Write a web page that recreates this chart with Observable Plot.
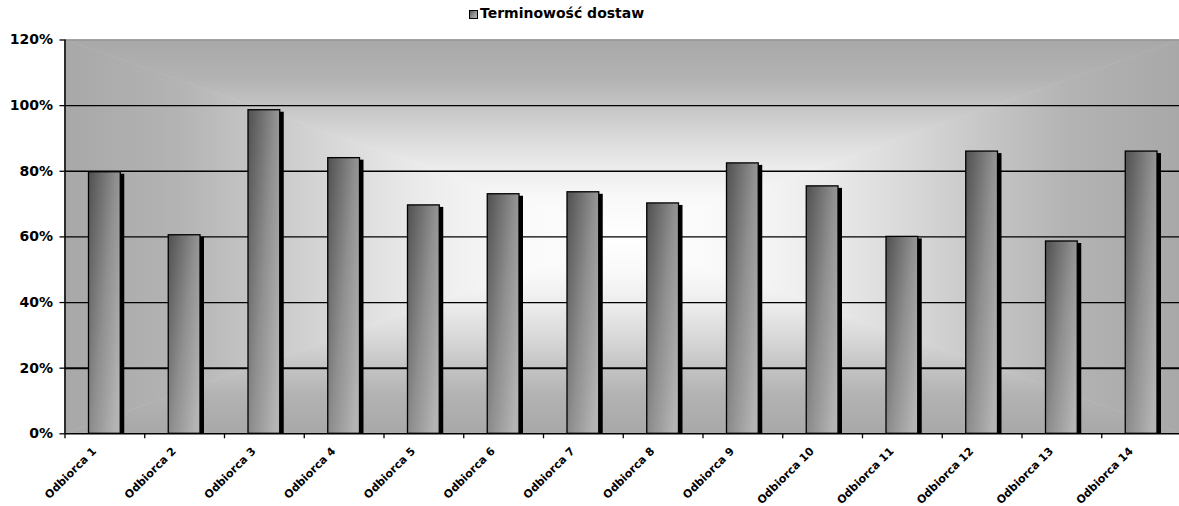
<!DOCTYPE html>
<html>
<head>
<meta charset="utf-8">
<script src="https://cdn.jsdelivr.net/npm/d3@7"></script>
<script src="https://cdn.jsdelivr.net/npm/@observablehq/plot@0.6"></script>
<style>
  html, body { margin: 0; padding: 0; background: #ffffff; }
  #chart { width: 1179px; }
  #legend { position: relative; height: 26px; width: 1179px; }
  #legend .swatch { position: absolute; left: 469px; top: 10px; }
  #legend .label { position: absolute; left: 480px; top: 5px; line-height: 16px;
    font: bold 14px "DejaVu Sans", sans-serif; color: #000; white-space: nowrap; }
</style>
</head>
<body>
<div id="chart"></div>
<script>
// Delivery punctuality per customer (percent)
const categories = [
  "Odbiorca 1", "Odbiorca 2", "Odbiorca 3", "Odbiorca 4", "Odbiorca 5",
  "Odbiorca 6", "Odbiorca 7", "Odbiorca 8", "Odbiorca 9", "Odbiorca 10",
  "Odbiorca 11", "Odbiorca 12", "Odbiorca 13", "Odbiorca 14"
];
const values = [79.7, 60.5, 98.6, 84.0, 69.6, 73.0, 73.6, 70.2, 82.4, 75.4, 60.0, 86.0, 58.6, 86.0];
const yTicks = [0, 20, 40, 60, 80, 100, 120];
const seriesName = "Terminowość dostaw";

const data = categories.map((category, index) => ({category, index, value: values[index]}));
const slots = d3.range(categories.length + 1); // category boundaries

// Shared gradient definitions (bar fill + legend swatch)
function barGradient(sel, id) {
  const g = sel.append("linearGradient").attr("id", id)
    .attr("x1", 0).attr("y1", 0).attr("x2", 1).attr("y2", 0.78);
  [[0, "#505050"], [0.55, "#8f8f8f"], [1, "#b4b4b4"]].forEach(([o, c]) =>
    g.append("stop").attr("offset", o).attr("stop-color", c));
}

// Rectangular "from centre" background: four triangles meeting at the middle
function backgroundMark(index, scales) {
  const L = scales.x(0), R = scales.x(categories.length);
  const B = scales.y(0), T = scales.y(120);
  const cx = (L + R) / 2, cy = (T + B) / 2;
  const stops = [[0, "#a8a8a8"], [0.2, "#b3b3b3"], [0.35, "#c6c6c6"], [0.5, "#dadada"],
                 [0.65, "#ececec"], [0.8, "#f8f8f8"], [1, "#ffffff"]];
  const g = d3.create("svg:g");
  const defs = g.append("defs");
  const sides = [
    {id: "bgTop", from: [0, T], to: [0, cy], pts: [[L, T], [R, T], [cx, cy]]},
    {id: "bgBottom", from: [0, B], to: [0, cy], pts: [[L, B], [R, B], [cx, cy]]},
    {id: "bgLeft", from: [L, 0], to: [cx, 0], pts: [[L, T], [L, B], [cx, cy]]},
    {id: "bgRight", from: [R, 0], to: [cx, 0], pts: [[R, T], [R, B], [cx, cy]]}
  ];
  for (const s of sides) {
    const lg = defs.append("linearGradient").attr("id", s.id)
      .attr("gradientUnits", "userSpaceOnUse")
      .attr("x1", s.from[0]).attr("y1", s.from[1]).attr("x2", s.to[0]).attr("y2", s.to[1]);
    stops.forEach(([o, c]) => lg.append("stop").attr("offset", o).attr("stop-color", c));
    g.append("polygon").attr("points", s.pts.map(p => p.join(",")).join(" "))
      .attr("fill", `url(#${s.id})`).attr("stroke", `url(#${s.id})`).attr("stroke-width", 0.6);
  }
  barGradient(defs, "barGrad");
  return g.node();
}

const font = {fontFamily: "DejaVu Sans", fontWeight: "bold", fill: "#000"};

const chart = Plot.plot({
  width: 1179,
  height: 480,
  marginTop: 13.5,
  marginBottom: 72.7,
  marginLeft: 64.5,
  marginRight: -2,
  x: {type: "linear", domain: [0, categories.length], axis: null},
  y: {domain: [0, 120], axis: null},
  style: {background: "transparent", overflow: "visible"},
  marks: [
    backgroundMark,
    Plot.ruleY([120], {stroke: "#8c8c8c", strokeWidth: 1}),
    Plot.ruleY(yTicks.filter(t => t > 0 && t < 120), {
      stroke: "#000", strokeWidth: d => (d === 20 ? 2 : 1.3)
    }),
    // drop shadow
    Plot.rectY(data, {
      x1: "index", x2: d => d.index + 1, y: "value",
      fill: "#000", insetLeft: 24, insetRight: 24, insetBottom: 2, dx: 4, dy: 2
    }),
    Plot.rectY(data, {
      x1: "index", x2: d => d.index + 1, y: "value",
      fill: "url(#barGrad)", stroke: "#000", strokeWidth: 1.3, insetLeft: 24, insetRight: 24
    }),
    Plot.ruleX([0], {stroke: "#000", strokeWidth: 1.5}),
    Plot.ruleY([0], {stroke: "#000", strokeWidth: 1.5}),
    Plot.axisY({
      ticks: yTicks, tickSize: 5, tickPadding: 7, strokeWidth: 1.3,
      tickFormat: d => d + "%", fontSize: 14, label: null, ...font
    }),
    Plot.axisX({
      ticks: slots, tickSize: 5, strokeWidth: 1.3, tickFormat: () => "", label: null
    }),
    Plot.text(data, {
      x: d => d.index + 0.5, frameAnchor: "bottom", text: "category",
      rotate: -45, textAnchor: "end", dx: -8, dy: 18, fontSize: 11, ...font
    })
  ]
});

// Legend above the plot
const legend = d3.select("#chart").append("div").attr("id", "legend");
const sw = legend.append("svg").attr("class", "swatch").attr("width", 10).attr("height", 10);
barGradient(sw.append("defs"), "legendGrad");
sw.append("rect").attr("x", 0.5).attr("y", 0.5).attr("width", 8).attr("height", 8)
  .attr("fill", "url(#legendGrad)").attr("stroke", "#000").attr("stroke-width", 1);
legend.append("span").attr("class", "label").text(seriesName);

document.getElementById("chart").appendChild(chart);
</script>
</body>
</html>
